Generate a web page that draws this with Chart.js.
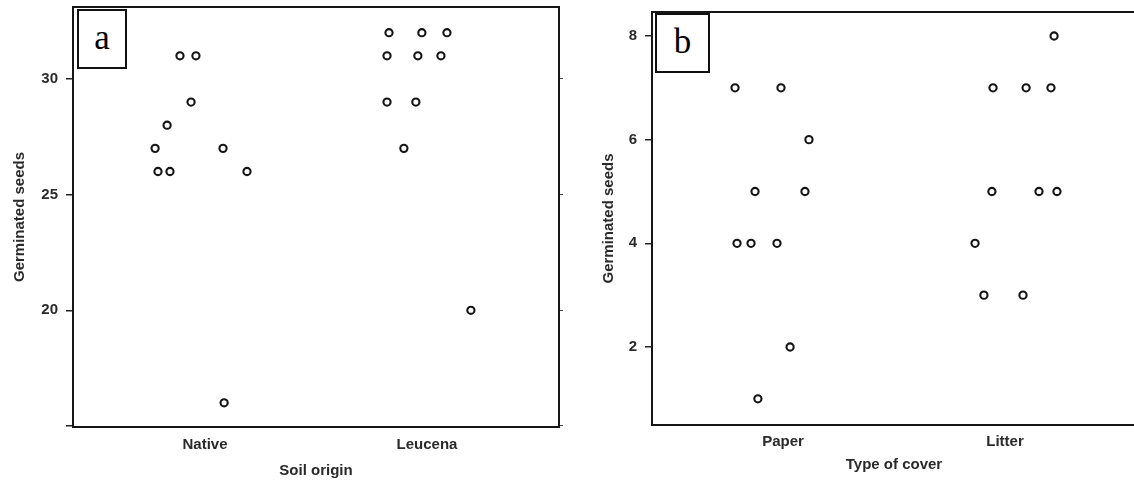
<!DOCTYPE html>
<html><head><meta charset="utf-8">
<script src="https://cdn.jsdelivr.net/npm/chart.js@4.4.0/dist/chart.umd.min.js"></script>
<style>
html,body{margin:0;padding:0;background:#fff;overflow:hidden;width:1134px;height:483px;}
#wa{position:absolute;left:0;top:0;width:590px;height:483px;}
#wb{position:absolute;left:590px;top:0;width:566px;height:483px;}
.lab{position:absolute;border:2px solid #111;background:#fff;font-family:"Liberation Serif","Times New Roman",serif;font-size:35px;line-height:1;color:#000;display:flex;align-items:center;justify-content:center;box-sizing:border-box;padding-bottom:3px;}
</style></head><body>
<div id="wa"><canvas id="ca" width="590" height="483"></canvas></div>
<div id="wb"><canvas id="cb" width="566" height="483"></canvas></div>
<div class="lab" style="left:77px;top:9px;width:50px;height:60px;">a</div>
<div class="lab" style="left:655px;top:13px;width:55px;height:60px;">b</div>
<script>
// ---- Panel a data ----
const categoriesA = ["Native", "Leucena"];
const nativeX = [0.775, 0.788, 0.842, 0.829, 0.887, 0.959, 0.937, 1.081, 1.189, 1.086];
const nativeY = [27, 26, 26, 28, 31, 31, 29, 27, 26, 16];
const leucenaX = [1.829, 1.977, 2.090, 1.820, 1.959, 2.063, 1.820, 1.950, 1.896, 2.198];
const leucenaY = [32, 32, 32, 31, 31, 31, 29, 29, 27, 20];
const yTicksA = [15, 20, 25, 30];
const yTickLabelsA = ["", "20", "25", "30"];

// ---- Panel b data ----
const categoriesB = ["Paper", "Litter"];
const paperX = [0.784, 0.991, 1.117, 0.874, 1.099, 0.793, 0.856, 0.973, 1.032, 0.887];
const paperY = [7, 7, 6, 5, 5, 4, 4, 4, 2, 1];
const litterX = [2.221, 1.946, 2.095, 2.207, 1.941, 2.153, 2.234, 1.865, 1.905, 2.081];
const litterY = [8, 7, 7, 7, 5, 5, 5, 4, 3, 3];
const yTicksB = [2, 4, 6, 8];
const yTickLabelsB = ["2", "4", "6", "8"];

const FONT = '"Liberation Sans", Arial, sans-serif';
const INK = '#2a2a2a';

const frame = {
  id: 'frame',
  beforeDatasetsDraw(chart) {
    const {ctx, chartArea: a} = chart;
    ctx.save();
    ctx.strokeStyle = '#161616';
    ctx.lineWidth = 2;
    ctx.strokeRect(a.left, a.top, a.right - a.left, a.bottom - a.top);
    ctx.restore();
  }
};

function pts(xs, ys) { return xs.map((x, i) => ({x: x, y: ys[i]})); }

function dataset(xs, ys) {
  return {
    data: pts(xs, ys),
    pointRadius: 3.6,
    pointBorderWidth: 2.1,
    borderColor: '#151515',
    backgroundColor: '#fff',
    pointBackgroundColor: '#fff',
    pointBorderColor: '#151515'
  };
}

function build(id, p) {
  const scales = {
    x: {
      type: 'linear', min: p.xmin, max: p.xmax, position: 'bottom',
      grid: {display: false}, border: {display: false},
      afterBuildTicks: s => { s.ticks = [{value: 1}, {value: 2}]; },
      afterFit: s => { s.height = p.xh; s.paddingLeft = 0; s.paddingRight = 0; },
      ticks: {
        font: {family: FONT, size: 15, weight: 'bold'}, color: INK, padding: p.xpad,
        maxRotation: 0, autoSkip: false,
        callback: v => p.cats[Math.round(v) - 1]
      },
      title: {display: true, text: p.xtitle, font: {family: FONT, size: 15, weight: 'bold'}, color: INK,
              padding: {top: 0, bottom: p.xtpad}}
    },
    y: {
      type: 'linear', min: p.ymin, max: p.ymax, position: 'left',
      grid: {display: true, drawOnChartArea: false, drawTicks: true, tickLength: 7, color: '#222', lineWidth: 1.5},
      border: {display: false},
      afterBuildTicks: s => { s.ticks = p.yt.map(v => ({value: v})); },
      afterFit: s => { s.width = p.yw; s.paddingTop = 0; s.paddingBottom = 0; },
      ticks: {
        font: {family: FONT, size: 15, weight: 'bold'}, color: INK, padding: 8, autoSkip: false,
        callback: v => p.ytl[p.yt.indexOf(v)]
      },
      title: {display: true, text: 'Germinated seeds', font: {family: FONT, size: 15, weight: 'bold'}, color: INK,
              padding: {top: 0, bottom: 0}}
    }
  };
  if (p.right) {
    scales.yr = {
      type: 'linear', min: p.ymin, max: p.ymax, position: 'right',
      grid: {display: true, drawOnChartArea: false, drawTicks: true, tickLength: 4, color: '#444', lineWidth: 1},
      border: {display: false},
      afterBuildTicks: s => { s.ticks = p.yt.map(v => ({value: v})); },
      afterFit: s => { s.width = 5; s.paddingTop = 0; s.paddingBottom = 0; },
      ticks: {display: false}
    };
  }
  return new Chart(document.getElementById(id), {
    type: 'scatter',
    data: {datasets: [dataset(p.ax, p.ay), dataset(p.bx, p.by)]},
    options: {
      responsive: false, animation: false, devicePixelRatio: 1, events: [],
      layout: {padding: p.pad},
      plugins: {legend: {display: false}, tooltip: {enabled: false}},
      scales: scales
    },
    plugins: [frame]
  });
}

build('ca', {
  cats: categoriesA, xtitle: 'Soil origin',
  ax: nativeX, ay: nativeY, bx: leucenaX, by: leucenaY,
  xmin: 0.405, xmax: 2.595, ymin: 14.955, ymax: 33.11,
  yt: yTicksA, ytl: yTickLabelsA,
  xh: 56, xpad: 1, xtpad: 3, yw: 62, right: true,
  pad: {left: 11, right: 590 - 559 - 5, top: 7, bottom: 0}
});

build('cb', {
  cats: categoriesB, xtitle: 'Type of cover',
  ax: paperX, ay: paperY, bx: litterX, by: litterY,
  xmin: 0.41, xmax: 2.59, ymin: 0.495, ymax: 8.463,
  yt: yTicksB, ytl: yTickLabelsB,
  xh: 58, xpad: 0, xtpad: 9, yw: 52, right: false,
  pad: {left: 10, right: 20, top: 12, bottom: 0}
});
</script>
</body></html>
